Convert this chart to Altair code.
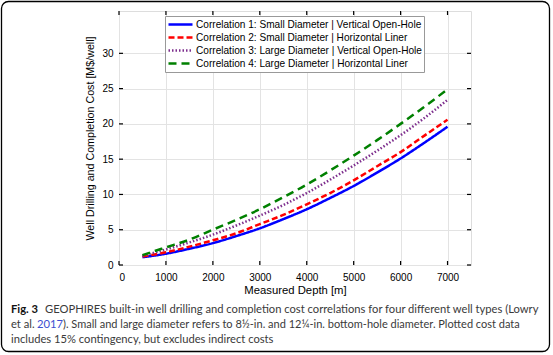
import altair as alt
import pandas as pd

# ---------------- data ----------------
depth_m = [500, 1000, 1500, 2000, 2500, 3000, 3500, 4000, 4500, 5000, 5500, 6000, 6500, 7000]
series_names = [
    "Correlation 1: Small Diameter | Vertical Open-Hole",
    "Correlation 2: Small Diameter | Horizontal Liner",
    "Correlation 3: Large Diameter | Vertical Open-Hole",
    "Correlation 4: Large Diameter | Horizontal Liner",
]
cost_corr1 = [1.1, 1.6, 2.3, 3.1, 4.1, 5.2, 6.5, 7.9, 9.5, 11.2, 13.1, 15.1, 17.3, 19.6]
cost_corr2 = [1.2, 1.8, 2.6, 3.5, 4.5, 5.8, 7.1, 8.6, 10.2, 12.0, 14.0, 16.0, 18.3, 20.6]
cost_corr3 = [1.3, 2.2, 3.2, 4.3, 5.6, 7.0, 8.5, 10.2, 12.1, 14.1, 16.2, 18.4, 20.8, 23.4]
cost_corr4 = [1.4, 2.5, 3.6, 5.0, 6.4, 7.9, 9.6, 11.4, 13.4, 15.5, 17.7, 20.0, 22.4, 24.9]

x_ticks = [0, 1000, 2000, 3000, 4000, 5000, 6000, 7000]
y_ticks = [0, 5, 10, 15, 20, 25, 30]
x_domain = [0, 7500]
y_domain = [0, 36]

x_title = "Measured Depth [m]"
y_title = "Well Drilling and Completion Cost [M$/well]"

caption_bold = ["Fig. 3"]
caption_line1 = ["GEOPHIRES built-in well drilling and completion cost correlations for four different well types (Lowry"]
caption_line2a = ["et al."]
caption_line2_link = ["2017"]
caption_line2b = ["). Small and large diameter refers to 8½-in. and 12¼-in. bottom-hole diameter. Plotted cost data"]
caption_line3 = ["includes 15% contingency, but excludes indirect costs"]

# ---------------- styles ----------------
colors = ["#0000ff", "#ff0000", "#7e2f8e", "#008000"]
dashes = [[1, 0], [6, 3], [1.5, 2], [8, 5]]
W, H = 352, 254
AX_FONT = "Liberation Sans"
CAP_FONT = "Lato"
CAP_COLOR = "#3a3a3a"

rows = []
for name, vals in zip(series_names, [cost_corr1, cost_corr2, cost_corr3, cost_corr4]):
    for d, v in zip(depth_m, vals):
        rows.append({"series": name, "depth": d, "cost": v})
df = pd.DataFrame(rows)

xs = alt.Scale(domain=x_domain, nice=False, zero=False)
ys = alt.Scale(domain=y_domain, nice=False, zero=False)

leg = alt.Legend(
    orient="none", legendX=46, legendY=5, title=None,
    symbolType="stroke", symbolSize=576, symbolStrokeWidth=2.5,
    labelFont=AX_FONT, labelFontSize=10.1, labelColor="black",
    labelOffset=2, padding=2, rowPadding=0, clipHeight=13,
    fillColor="white", strokeColor="#999999", labelLimit=320,
)

lines = alt.Chart(df).mark_line(strokeWidth=2.5, interpolate="monotone").encode(
    x=alt.X("depth:Q", scale=xs, axis=alt.Axis(
        values=x_ticks, format="d", title=x_title, grid=True, gridColor="#e3e3e3",
        ticks=False, tickSize=0, domain=False, labelPadding=7,
        labelFont=AX_FONT, labelFontSize=10, labelColor="black",
        titleFont=AX_FONT, titleFontSize=11.3, titleFontWeight="normal",
        titleColor="black", titleBaseline="alphabetic", titleY=28)),
    y=alt.Y("cost:Q", scale=ys, axis=alt.Axis(
        values=y_ticks, format="d", title=y_title, grid=True, gridColor="#e3e3e3",
        ticks=False, tickSize=0, domain=False, labelPadding=6,
        labelFont=AX_FONT, labelFontSize=10, labelColor="black",
        titleFont=AX_FONT, titleFontSize=10.7, titleFontWeight="normal",
        titleColor="black", titleBaseline="alphabetic", titleX=-26, titleAngle=-90)),
    color=alt.Color("series:N", scale=alt.Scale(domain=series_names, range=colors), legend=leg),
    strokeDash=alt.StrokeDash("series:N", scale=alt.Scale(domain=series_names, range=dashes), legend=leg),
    order=alt.Order("depth:Q"),
)

xt = pd.DataFrame({"v": x_ticks})
yt = pd.DataFrame({"v": y_ticks})
tick_style = dict(color="black", strokeWidth=1.2)
bottom_ticks = alt.Chart(xt).mark_rule(**tick_style).encode(
    x=alt.X("v:Q", scale=xs), y=alt.value(H), y2=alt.value(H - 4))
top_ticks = alt.Chart(xt).mark_rule(**tick_style).encode(
    x=alt.X("v:Q", scale=xs), y=alt.value(0), y2=alt.value(4))
left_ticks = alt.Chart(yt).mark_rule(**tick_style).encode(
    y=alt.Y("v:Q", scale=ys), x=alt.value(0), x2=alt.value(4))
right_ticks = alt.Chart(yt).mark_rule(**tick_style).encode(
    y=alt.Y("v:Q", scale=ys), x=alt.value(W - 4), x2=alt.value(W))

one = pd.DataFrame({"a": [0]})
border = alt.Chart(one).mark_rect(
    fill=None, fillOpacity=0, stroke="black", strokeWidth=1.3, cornerRadius=7
).encode(x=alt.value(-117.5), x2=alt.value(430.5), y=alt.value(-9.5), y2=alt.value(340.5))


def cap(texts, x, y, bold=False, color=CAP_COLOR, size=11.2):
    return alt.Chart(pd.DataFrame({"t": texts})).mark_text(
        align="left", baseline="alphabetic", font=CAP_FONT, fontSize=size,
        fontWeight="bold" if bold else "normal", color=color
    ).encode(x=alt.value(x), y=alt.value(y), text="t:N")


captions = [
    cap(caption_bold, -108, 302, bold=True, color="#111111"),
    cap(caption_line1, -74, 302),
    cap(caption_line2a, -108, 317),
    cap(caption_line2_link, -82, 317, color="#3d4fd0"),
    cap(caption_line2b, -56, 317, size=11.0),
    cap(caption_line3, -108, 332),
]

chart = alt.layer(
    border, lines, bottom_ticks, top_ticks, left_ticks, right_ticks, *captions
).properties(
    width=W, height=H,
    autosize=alt.AutoSizeParams(type="none"),
    padding={"left": 119, "top": 11, "right": 553 - 119 - W, "bottom": 355 - 11 - H},
).configure_view(
    stroke="black", strokeWidth=1.6
).configure(background="white")

chart.save("out.html", embed_options={"renderer": "svg", "actions": False})
